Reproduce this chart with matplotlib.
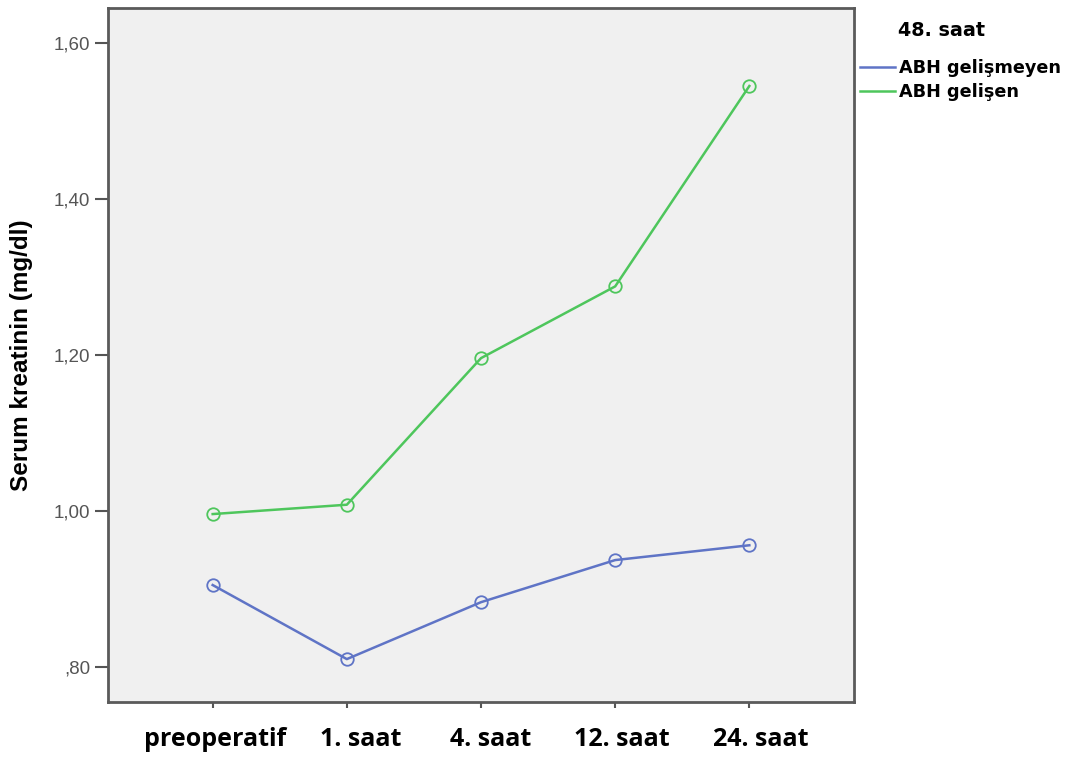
import matplotlib
matplotlib.use("Agg")
import matplotlib.pyplot as plt
import matplotlib.transforms as mtransforms
from matplotlib.ticker import FuncFormatter

# Serum creatinine means per time point, split by AKI outcome
zamanlar = ["preoperatif", "1. saat", "4. saat", "12. saat", "24. saat"]
abh_gelismeyen = [0.905, 0.810, 0.883, 0.937, 0.956]
abh_gelisen = [0.996, 1.008, 1.196, 1.288, 1.545]
y_ticks = [0.80, 1.00, 1.20, 1.40, 1.60]

mavi = "#5f74c6"
yesil = "#4ec65c"
gri = "#555555"

fig = plt.figure(figsize=(10.78, 7.58), dpi=100)
ax = fig.add_axes([0.1002, 0.0739, 0.692, 0.9155])
ax.set_facecolor("#f0f0f0")

x = list(range(len(zamanlar)))
ax.plot(x, abh_gelismeyen, color=mavi, lw=1.8, marker="o", ms=9,
        mfc="none", mec=mavi, mew=1.3, label="ABH gelişmeyen")
ax.plot(x, abh_gelisen, color=yesil, lw=1.8, marker="o", ms=9,
        mfc="none", mec=yesil, mew=1.3, label="ABH gelişen")

ax.set_xlim(-0.78, 4.78)
ax.set_ylim(0.755, 1.645)
ax.set_yticks(y_ticks)

def virgul(v, pos):
    s = f"{v:.2f}".replace(".", ",")
    return s[1:] if s.startswith("0") else s

ax.yaxis.set_major_formatter(FuncFormatter(virgul))
ax.tick_params(axis="y", length=9.5, width=1.5, color=gri,
               labelsize=13.5, labelcolor=gri, pad=3.5)
for lab in ax.get_yticklabels():
    lab.set_fontfamily("Liberation Sans")
ax.tick_params(axis="x", length=4, width=1.5, color=gri, pad=14)
for s in ax.spines.values():
    s.set_color("#5a5a5a")
    s.set_linewidth(2)

ax.set_xticks(x)
ax.set_xticklabels(zamanlar, fontfamily="Open Sans", fontweight="bold", fontsize=18)
# small per-label shifts of the category labels
kaydir = [2, 14, 10, 7, 11]
for lab, dx in zip(ax.get_xticklabels(), kaydir):
    lab.set_transform(lab.get_transform() +
                      mtransforms.ScaledTranslation(dx / 100, 0, fig.dpi_scale_trans))

ax.set_ylabel("Serum kreatinin (mg/dl)", fontsize=17.5, fontweight="bold",
              fontfamily="Liberation Sans", labelpad=15)

leg = ax.legend(loc="upper left", bbox_to_anchor=(1.008, 0.926), frameon=False,
                handlelength=1.96, handletextpad=0.25,
                labelspacing=0.3, borderaxespad=0, borderpad=0,
                prop={"family": "DejaVu Sans", "weight": "bold", "size": 12.7})
for h in leg.get_lines():
    h.set_marker("")
    h.set_linewidth(1.8)
ax.text(1.059, 0.967, "48. saat", transform=ax.transAxes, ha="left", va="center",
        fontfamily="DejaVu Sans", fontweight="bold", fontsize=13.8)

fig.savefig("out.png", dpi=100)
